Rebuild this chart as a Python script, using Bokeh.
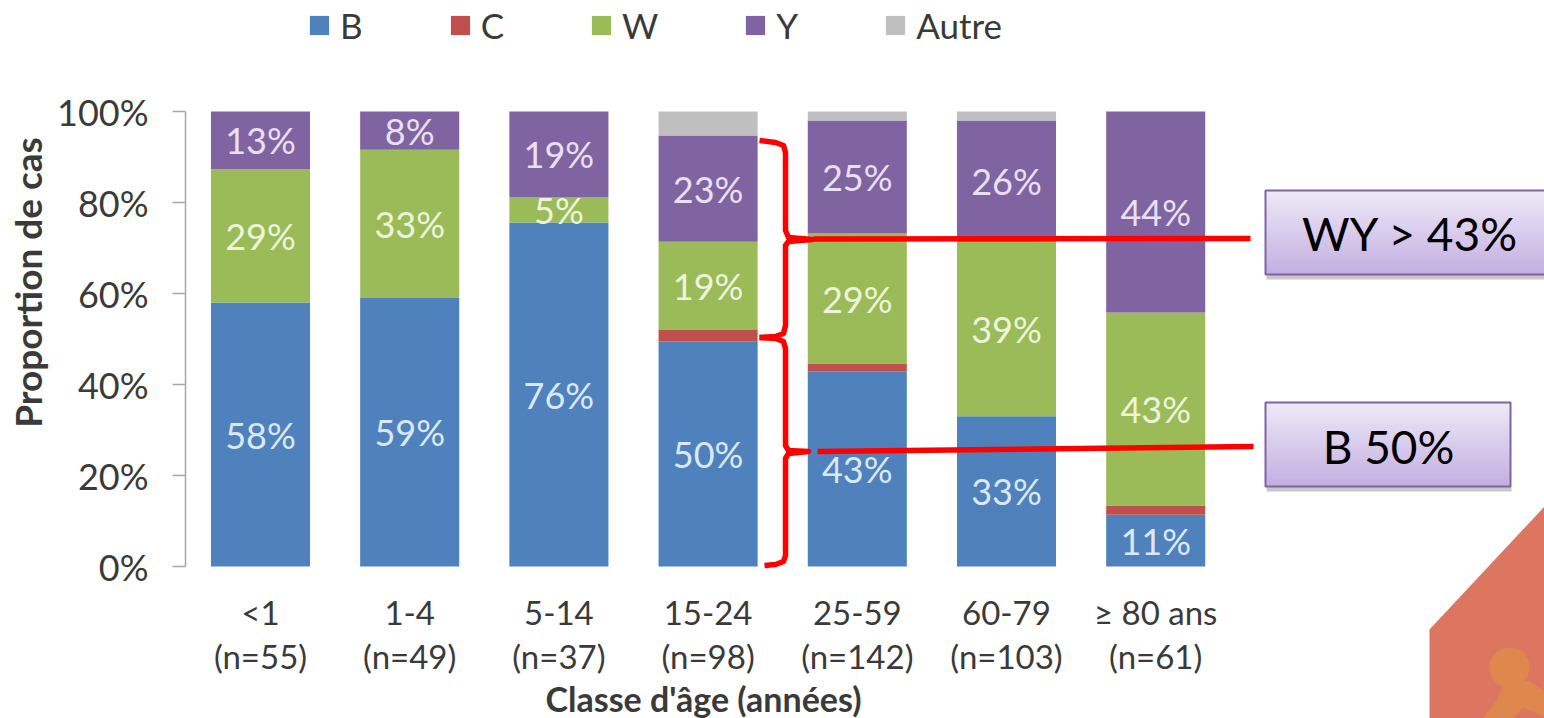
from bokeh.plotting import figure
from bokeh.models import Range1d, LinearAxis, FixedTicker, Legend, LegendItem, ColumnDataSource
from bokeh.core.properties import value
from bokeh.embed import file_html
from bokeh.resources import INLINE

# ---------- data ----------
categories = ["<1\n(n=55)", "1-4\n(n=49)", "5-14\n(n=37)", "15-24\n(n=98)",
              "25-59\n(n=142)", "60-79\n(n=103)", "≥ 80 ans\n(n=61)"]
series_names = ["B", "C", "W", "Y", "Autre"]
B = [58.0, 59.0, 75.6, 49.5, 42.9, 33.0, 11.4]
C = [0.0, 0.0, 0.0, 2.5, 1.7, 0.0, 2.0]
W = [29.3, 32.6, 5.5, 19.4, 28.6, 38.4, 42.4]
Y = [12.7, 8.4, 18.9, 23.3, 24.8, 26.6, 44.2]
Autre = [0.0, 0.0, 0.0, 5.3, 2.0, 2.0, 0.0]
B_labels = ["58%", "59%", "76%", "50%", "43%", "33%", "11%"]
W_labels = ["29%", "33%", "5%", "19%", "29%", "39%", "43%"]
Y_labels = ["13%", "8%", "19%", "23%", "25%", "26%", "44%"]
y_ticks = [0, 20, 40, 60, 80, 100]
y_tick_labels = ["0%", "20%", "40%", "60%", "80%", "100%"]
x_title = "Classe d'âge (années)"
y_title = "Proportion de cas"
callouts = ["WY > 43%", "B 50%"]

# ---------- styles ----------
COLORS = ["#4f81bd", "#c0504d", "#9bbb59", "#8064a2", "#bfbfbf"]
FONT = "Lato"
TXT = "#3a3a3a"

# page pixel -> data mapping: the frame fills the whole figure
W_FIG, H_FIG = 1544, 718
X0_PX, DX_PX = 260.0, 149.2       # first bar centre, bar spacing
Y0_PX, DY_PX = 566.0, 4.55        # 0 % line, pixels per %

p = figure(width=W_FIG, height=H_FIG, output_backend="svg", toolbar_location=None,
           min_border=0, outline_line_color=None,
           x_range=Range1d(-X0_PX / DX_PX, (W_FIG - X0_PX) / DX_PX),
           y_range=Range1d((Y0_PX - H_FIG) / DY_PX, Y0_PX / DY_PX),
           x_axis_type=None, y_axis_type=None)
p.grid.visible = False
p.extra_x_ranges["px"] = Range1d(0, W_FIG)
p.extra_y_ranges["px"] = Range1d(H_FIG, 0)
PX = dict(x_range_name="px", y_range_name="px")

# ---------- decoration (under everything) ----------
p.patch([1429, 1544, 1544, 1429], [629, 506, 718, 718], color="#dc7660", line_color=None, **PX)
p.scatter([1509], [667], size=40, color="#e0874d", line_color=None, **PX)
p.patch([1502, 1494, 1482, 1513, 1522, 1544, 1544, 1527], [687, 703, 718, 718, 707, 716, 690, 680],
        color="#e0874d", line_color=None, **PX)

# ---------- bars ----------
xs = list(range(len(categories)))
src = ColumnDataSource(dict(x=xs, B=B, C=C, W=W, Y=Y, Autre=Autre))
rs = p.vbar_stack(series_names, x="x", width=0.664, source=src, color=COLORS, line_color=None)

# ---------- data labels ----------
def centres(bottoms, heights):
    return [b + h / 2 for b, h in zip(bottoms, heights)]

b_mid = centres([0] * 7, B)
w_bot = [a + b for a, b in zip(B, C)]
w_mid = centres(w_bot, W)
y_bot = [a + b for a, b in zip(w_bot, W)]
y_mid = centres(y_bot, Y)
for mids, labs, col in [(b_mid, B_labels, "#dbe8f6"), (w_mid, W_labels, "#eef4dc"), (y_mid, Y_labels, "#e9e0f2")]:
    p.text(xs, mids, text=labs, text_color=col, text_font=value(FONT), text_font_size="36px",
           text_align="center", text_baseline="middle")

# ---------- axes ----------
yax = LinearAxis(fixed_location=(185 - X0_PX) / DX_PX, bounds=(0, 100),
                 ticker=FixedTicker(ticks=y_ticks),
                 major_label_overrides={t: l for t, l in zip(y_ticks, y_tick_labels)},
                 major_tick_out=13, major_tick_in=0, minor_tick_line_color=None,
                 axis_line_color="#a6a6a6", major_tick_line_color="#a6a6a6",
                 axis_line_width=1.5, major_tick_line_width=1.5,
                 major_label_standoff=24, major_label_text_font=FONT,
                 major_label_text_font_size="36px", major_label_text_color=TXT)
p.add_layout(yax, "left")
xax = LinearAxis(fixed_location=0, ticker=FixedTicker(ticks=xs),
                 major_label_overrides={i: c for i, c in zip(xs, categories)},
                 axis_line_color=None, major_tick_line_color=None, minor_tick_line_color=None,
                 major_label_standoff=19, major_label_text_font=FONT,
                 major_label_text_font_size="33px", major_label_text_color=TXT,
                 major_label_text_line_height=1.1)
p.add_layout(xax, "below")

p.text([703], [698], text=[x_title], text_font=value(FONT), text_font_style="bold",
       text_font_size="34px", text_color=TXT, text_align="center", text_baseline="middle", **PX)
p.text([27], [282], text=[y_title], angle=1.5708, text_font=value(FONT), text_font_style="bold",
       text_font_size="37px", text_color=TXT, text_align="center", text_baseline="middle", **PX)

# ---------- braces and red leader lines ----------
RED = "#ff0000"
brace_top_x = [759, 775, 783, 785, 785, 788, 812, 788, 785, 785, 783, 775, 759]
brace_top_y = [140, 142, 145, 152, 230, 237, 239, 241, 245, 325, 333, 336, 337]
brace_low_x = [759, 775, 783, 785, 785, 788, 808, 788, 785, 785, 783, 775, 764]
brace_low_y = [337, 338, 341, 348, 445, 450, 451, 453, 458, 555, 561, 564, 565]
for bx, by in [(brace_top_x, brace_top_y), (brace_low_x, brace_low_y)]:
    p.line(bx, by, line_color=RED, line_width=5.5, line_join="round", **PX)
p.line([813, 1250], [238.5, 238], line_color=RED, line_width=5.5, **PX)
p.line([817, 1253], [451, 446], line_color=RED, line_width=5.5, **PX)

# ---------- call-out boxes ----------
def lerp(a, b, t):
    return int(round(a + (b - a) * t))

def box(left, right, top, bottom, label, cx, cy):
    p.quad(left=left + 1, right=right + 1, top=bottom + 5, bottom=bottom, color="#9a9a9a",
           alpha=0.55, line_color=None, **PX)
    n = 42
    h = (bottom - top) / n
    for i in range(n):
        t = i / (n - 1)
        col = "#%02x%02x%02x" % (lerp(0xee, 0xc3, t), lerp(0xe8, 0xaf, t), lerp(0xf6, 0xe2, t))
        p.quad(left=left, right=right, top=top + i * h, bottom=top + (i + 1) * h + 0.5, color=col,
               line_color=None, **PX)
    p.quad(left=left, right=right, top=top, bottom=bottom, fill_color=None, line_color="#8064a2",
           line_width=2, **PX)
    p.text([cx], [cy], text=[label], text_font=value(FONT), text_font_size="46px", text_color="#000000",
           text_align="center", text_baseline="middle", **PX)

box(1265, 1546, 190, 274, callouts[0], 1410, 233)
box(1265, 1510, 402, 486, callouts[1], 1388, 446)

# ---------- legend ----------
legend = Legend(items=[LegendItem(label=n, renderers=[r]) for n, r in zip(series_names, rs)],
                orientation="horizontal", location=(307, H_FIG - 46), spacing=85,
                glyph_width=24, glyph_height=24, label_standoff=9, padding=0, margin=0,
                border_line_color=None, background_fill_alpha=0,
                label_text_font=FONT, label_text_font_size="35px", label_text_color=TXT,
                label_height=24)
p.add_layout(legend, "center")

open("out.html", "w").write(file_html(p, INLINE))
